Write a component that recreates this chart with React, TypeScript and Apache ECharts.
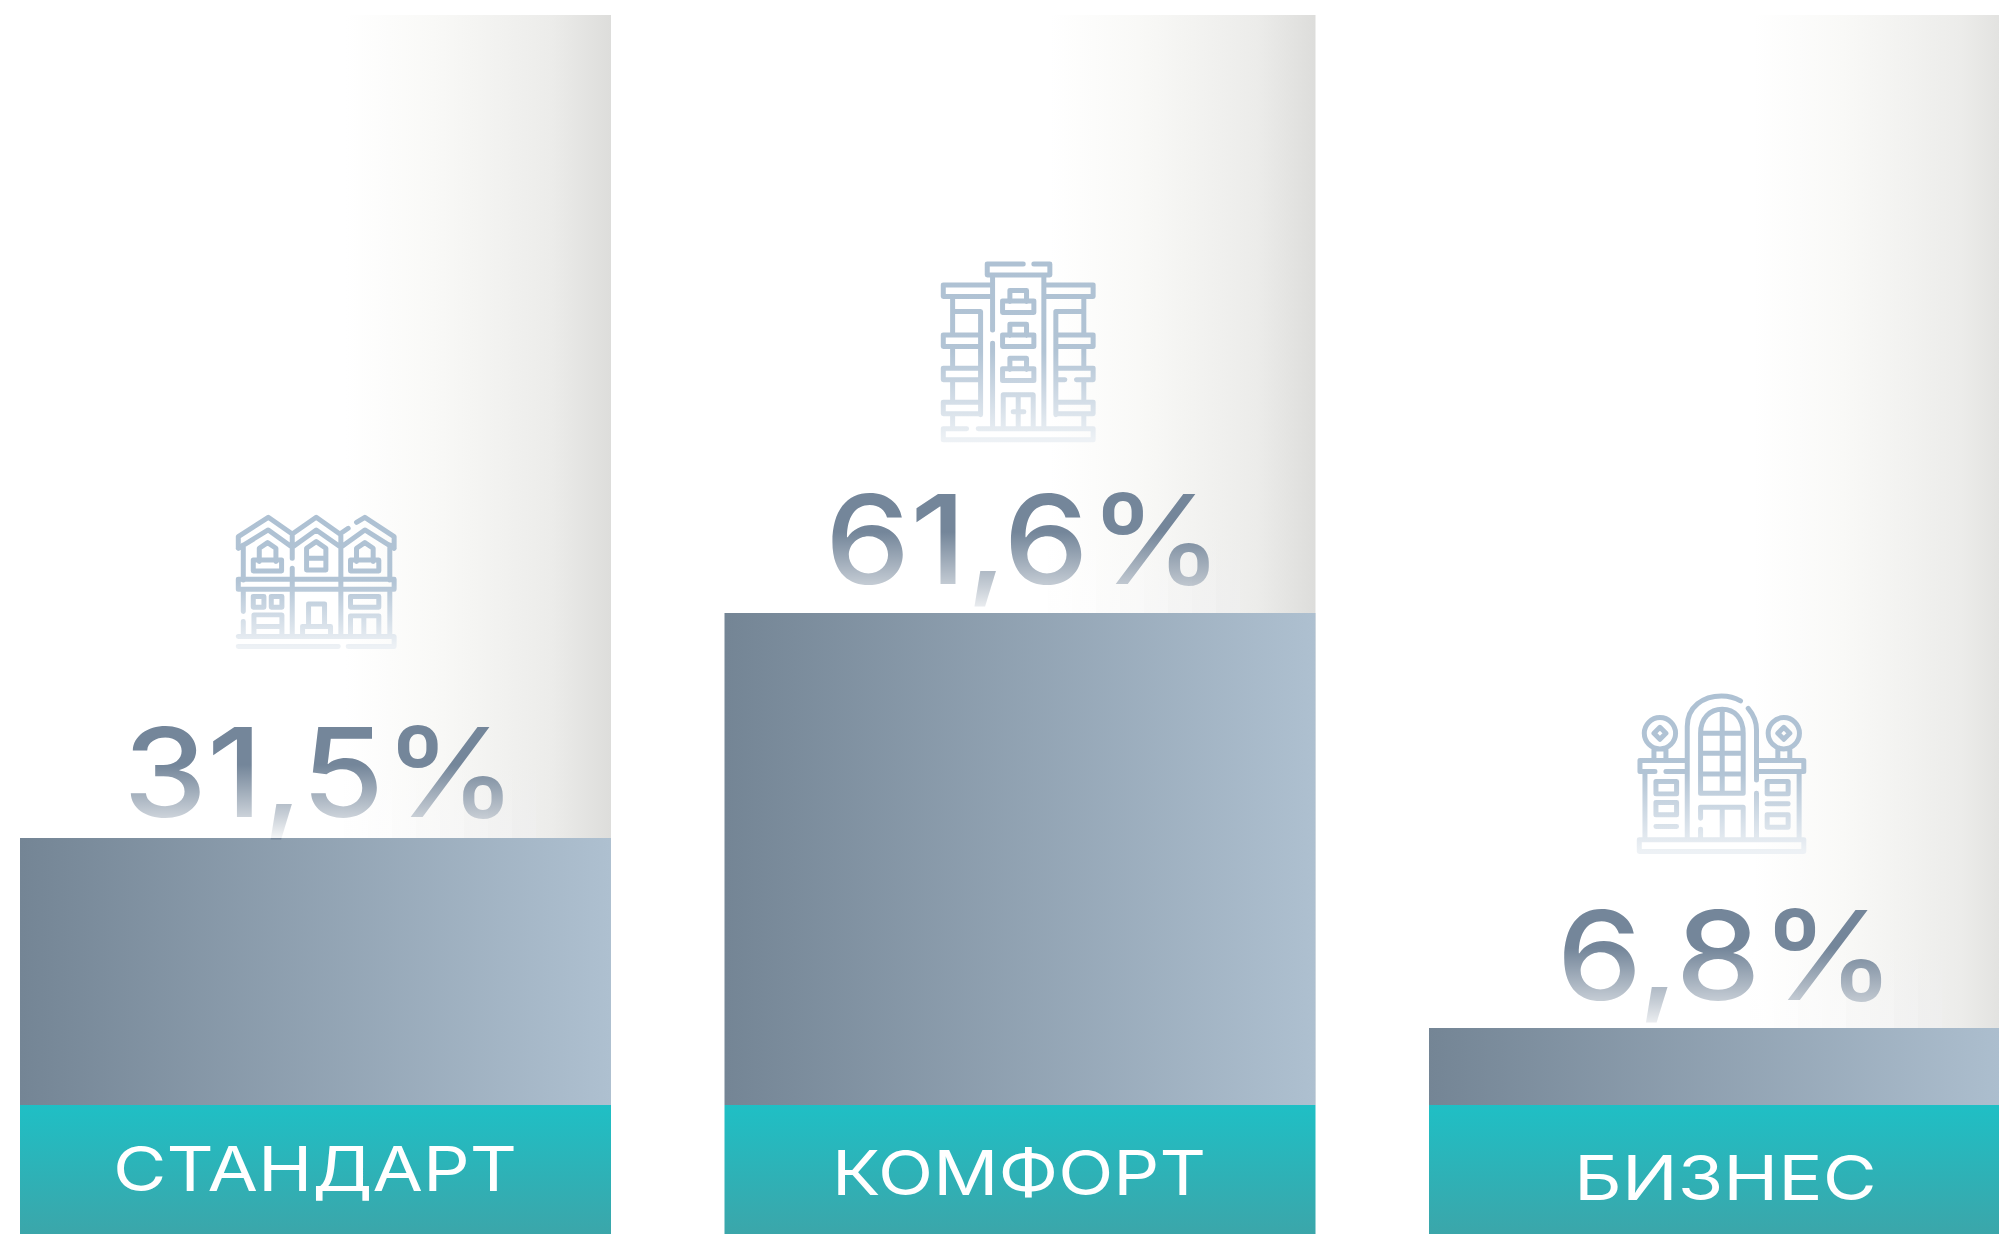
import React, { useEffect, useRef } from "react";
import * as echarts from "echarts";

// Data. The drawn column heights in the reference are
// not proportional to the printed percentages, so both are listed.
const categories = ["СТАНДАРТ", "КОМФОРТ", "БИЗНЕС"];
const positions = [0, 1, 2];
const valueLabels = ["31,5%", "61,6%", "6,8%"];
const columnLevels = [267, 492, 77];
const trackLevels = [1090, 1090, 1090];
const bandLevels = [-129, -129, -129];

// Layout nudges (pixels) per column
const valueDx = [4.5, 4, 1.5];
const valueBaseGap = [21, 29, 28];
const valueInkWidth = [373, 378, 319];
const catDx = [-0.5, -1, 1];
const catBaseline = [94, 98, 103];
const catInkWidth = [398, 366, 293];
const DESCENT = 17;
const BAR_W = 591;
const VALUE_FONT = '500 124px "Inter"';
const CAT_FONT = '400 62px "Inter"';

const trackStops: [number, number][] = [[0, 255], [0.55, 255], [0.7, 249], [0.9, 236], [1, 221]];
const trackGrey = (f: number) => {
  for (let k = 1; k < trackStops.length; k++) {
    if (f <= trackStops[k][0]) {
      const [a, av] = trackStops[k - 1];
      const [b, bv] = trackStops[k];
      return Math.round(av + ((f - a) / (b - a)) * (bv - av));
    }
  }
  return 221;
};

const ICON_ROW = "M115,175V140L205,82L277,132L349,82L420,132L445,115M470,97L495,82L583,140V175M115,175L205,120L277,172L349,120L423,172L495,120L583,175M130,165V270M570,165V270M277,132V205M277,235V270M423,132V270M178,215V175L203,158L228,175V215M160,210H245V243H160ZM320,240V175L349,155L378,175V240ZM320,205H378M470,215V175L495,158L520,175V215M452,210H537V243H452ZM115,268H583V298H115ZM277,270V298M423,270V298M130,298V365M130,395V440M570,298V440M277,298V440M423,298V440M160,320H192V352H160ZM214,320H246V352H214ZM452,320H537V352H452ZM162,440V375H246V440M162,410H246M326,408V342H374V408M308,440V410H392V440M452,440V378H537V440M492,378V440M115,440H583V470H445M415,470H115Z";
const ICON_TOWER = "M370,72H262V105H450V72H402M278,105V270M278,310V560M432,105V560M278,135H130V170H278M432,135H580V170H432M158,170V285M158,325V385M158,425V485M158,525V560M158,215H242V525M552,170V285M552,325V385M552,425V485M552,525V560M552,215H468V525M130,285H242V320H130ZM130,385H242V420H130ZM130,487H242V522H130ZM468,285H580V320H468ZM530,420H580V385H468V420H495M468,487H580V522H468ZM330,185V152H380V185M308,183H402V218H308ZM330,287V253H380V287M308,285H402V320H308ZM330,389V355H380V389M308,387H402V422H308ZM310,560V465H400V560M355,465V560M340,516H372M200,567H130V600H580V567H235";
const ICON_GATE = "M262,510V170C262,110 310,78 365,78C385,78 405,83 422,93M445,115C462,135 470,155 470,180V330M470,370V510M302,370V190C302,145 330,118 367,118C404,118 430,145 430,190V370ZM367,118V370M302,190H430M302,250H430M302,312H430M227,190A47,47 0 1 1 133,190A47,47 0 1 1 227,190ZM180,172L198,190L180,208L162,190ZM162,237V270M198,237V270M599,190A47,47 0 1 1 505,190A47,47 0 1 1 599,190ZM552,172L570,190L552,208L534,190ZM534,237V270M570,237V270M262,272H120V305H165M198,305H262M470,272H612V305H470M135,305V510M598,305V510M168,335H230V372H168ZM168,398H230V435H168ZM168,470H230M502,335H565V372H502ZM502,402H565M502,435H565V472H502ZM302,445V412H430V510M367,412V510M302,478V510M118,510H612V545H118Z";

echarts.graphic.registerShape("iconRow", echarts.graphic.extendPath(ICON_ROW, {}));
echarts.graphic.registerShape("iconTower", echarts.graphic.extendPath(ICON_TOWER, {}));
echarts.graphic.registerShape("iconGate", echarts.graphic.extendPath(ICON_GATE, {}));

const hGrad = (stops: [number, string][]) =>
  new echarts.graphic.LinearGradient(0, 0, 1, 0, stops.map(([offset, color]) => ({ offset, color })));
const vGrad = (stops: [number, string][]) =>
  new echarts.graphic.LinearGradient(0, 0, 0, 1, stops.map(([offset, color]) => ({ offset, color })));
const warm = (g: number) => {
  const h = (n: number) => n.toString(16).padStart(2, "0");
  return "#" + h(g) + h(g) + h(g < 252 ? g - 2 : g);
};

const measureCtx = document.createElement("canvas").getContext("2d")!;
const fitScale = (text: string, font: string, width: number) => {
  measureCtx.font = font;
  const m = measureCtx.measureText(text);
  const ink = m.actualBoundingBoxLeft + m.actualBoundingBoxRight;
  return width / (ink || m.width);
};

export default function App() {
  const ref = useRef<HTMLDivElement>(null);
  useEffect(() => {
    const chart = echarts.init(ref.current!, null, { renderer: "svg" });
    const icon = (type: string, x: number, y: number) => ({
      type,
      x,
      y,
      scaleX: 1 / 3,
      scaleY: 1 / 3,
      z: 100,
      style: {
        fill: "none",
        stroke: vGrad([[0, "#AEC1D3"], [0.5, "#B2C4D5"], [1, "#EDF1F5"]]),
        lineWidth: 15,
        lineCap: "round",
        lineJoin: "round",
      },
    });
    const barBase = { type: "bar", barWidth: BAR_W, barGap: "-100%", silent: true };
    chart.setOption({
      animation: false,
      backgroundColor: "#ffffff",
      grid: { left: 0, top: 15, width: 1999, height: 1219 },
      xAxis: { type: "value", min: -0.44784, max: 2.38964, show: false },
      yAxis: { type: "value", min: -129, max: 1090, show: false },
      graphic: [icon("iconRow", 200, 490), icon("iconTower", 900, 240), icon("iconGate", 1600, 670)],
      series: [
        {
          ...barBase,
          data: positions.map((p, i) => [p, trackLevels[i]]),
          itemStyle: {
            color: hGrad(trackStops.map(([o, g]) => [o, warm(g)] as [number, string])),
          },
        },
        {
          ...barBase,
          data: positions.map((p, i) => [p, columnLevels[i]]),
          itemStyle: { color: hGrad([[0, "#748595"], [1, "#AEC0D0"]]) },
        },
        {
          ...barBase,
          data: positions.map((p, i) => [p, bandLevels[i]]),
          itemStyle: { color: vGrad([[0, "#1FBFC5"], [1, "#3BA6AA"]]) },
        },
        {
          type: "custom",
          coordinateSystem: "cartesian2d",
          data: positions.map((p, i) => [p, columnLevels[i]]),
          encode: { x: 0, y: 1 },
          silent: true,
          z: 10,
          clip: false,
          renderItem: (_: any, api: any) => {
            const i = api.value(0);
            const p = api.coord([i, api.value(1)]);
            const cx = p[0] + valueDx[i];
            const baseline = p[1] - valueBaseGap[i];
            const left = p[0] - BAR_W / 2;
            const top = Math.round(baseline - 52);
            const bottom = Math.round(p[1]);
            // The fade of the figures towards the column: slices tinted like the track behind them.
            const slices = [];
            const sliceW = 24;
            const x0 = Math.round(cx - 216);
            for (let k = 0; k < 18; k++) {
              const sx = x0 + k * sliceW;
              const grey = trackGrey(Math.min(1, Math.max(0, (sx + sliceW / 2 - left) / BAR_W)));
              const c = (a: number) => `rgba(${grey},${grey},${grey},${a})`;
              slices.push({
                type: "rect",
                shape: { x: sx, y: top, width: sliceW, height: bottom - top },
                style: { fill: vGrad([[0, c(0)], [0.68, c(0.6)], [1, c(0.92)]]) },
              });
            }
            return {
              type: "group",
              children: [
                {
                  type: "text",
                  x: cx,
                  y: baseline + DESCENT,
                  scaleX: fitScale(valueLabels[i], VALUE_FONT, valueInkWidth[i]),
                  style: {
                    text: valueLabels[i],
                    font: VALUE_FONT,
                    textAlign: "center",
                    verticalAlign: "bottom",
                    fill: "#74869A",
                  },
                },
                ...slices,
              ],
            };
          },
        },
        {
          type: "custom",
          coordinateSystem: "cartesian2d",
          data: positions.map((p) => [p, 0]),
          encode: { x: 0, y: 1 },
          silent: true,
          z: 10,
          clip: false,
          renderItem: (_: any, api: any) => {
            const i = api.value(0);
            const p = api.coord([i, 0]);
            return {
              type: "text",
              x: p[0] + catDx[i],
              y: p[1] + catBaseline[i],
              scaleX: fitScale(categories[i], CAT_FONT, catInkWidth[i]),
              style: {
                text: categories[i],
                font: CAT_FONT,
                textAlign: "center",
                verticalAlign: "bottom",
                fill: "#FFFFFF",
              },
            };
          },
        },
      ],
    });
    return () => chart.dispose();
  }, []);
  return <div ref={ref} style={{ position: "fixed", left: 0, top: 0, width: 1999, height: 1234 }} />;
}
